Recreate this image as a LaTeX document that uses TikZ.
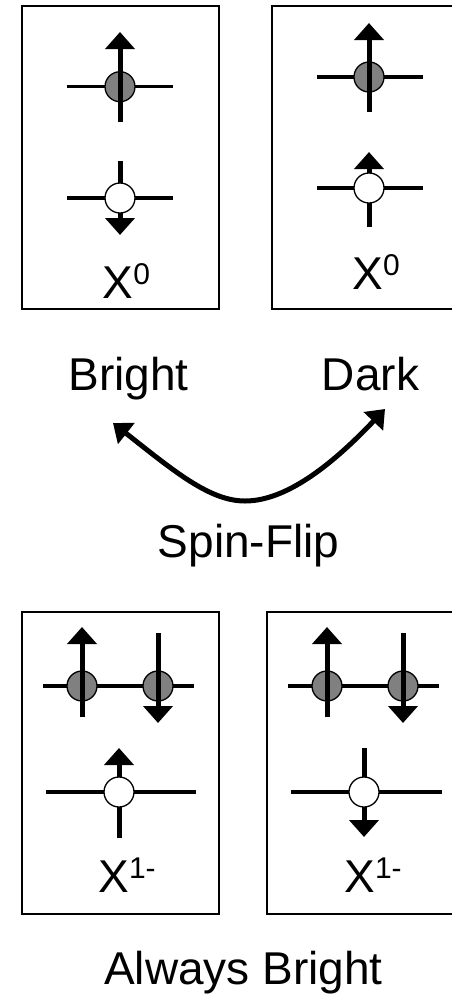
\documentclass[tikz,border=0pt]{standalone}
\usepackage{fontspec}
\setmainfont{Liberation Sans}
\usetikzlibrary{arrows.meta}
\newcommand{\bigtxt}{\fontsize{46}{50}\selectfont}
\newcommand{\suptxt}[1]{\raisebox{14pt}{\fontsize{30}{32}\selectfont #1}}
\tikzset{
  frame/.style={line width=1.6pt},
  level/.style={line width=3.3pt},
  spin/.style={line width=5pt,-{Triangle[width=29pt,length=17pt]}},
  elec/.style={circle,draw,line width=1.3pt,fill=black!50,minimum size=30pt,inner sep=0pt},
  hole/.style={circle,draw,line width=1.3pt,fill=white,minimum size=30pt,inner sep=0pt},
  lbl/.style={anchor=base,inner sep=0pt,font=\bigtxt},
  flip/.style={line width=5pt,{Triangle[width=26pt,length=17pt]}-{Triangle[width=26pt,length=17pt]}}
}
\begin{document}
\begin{tikzpicture}[x=1pt,y=-1pt]
\useasboundingbox (0,0) rectangle (452,994);
\fill[white] (0,0) rectangle (452,994);

% ---------- frames ----------
\draw[frame] (22,6) rectangle (219,309);
\draw[frame] (452,6) -- (272,6) -- (272,309) -- (452,309);
\draw[frame] (22,612) rectangle (219,914);
\draw[frame] (452,612) -- (267,612) -- (267,914) -- (452,914);

% ---------- top-left (X0 bright) ----------
\draw[level] (67,86.7) -- (173,86.7);
\node[elec] (tl1) at (120,86.7) {};
\draw[spin] (120,122) -- (120,32);
\draw[level] (67,198) -- (173,198);
\draw[spin] (120,161) -- (120,235);
\node[hole] (tl2) at (120,198) {};
\node[lbl] (tlx) at (126.5,298) {X\suptxt{0}};

% ---------- top-right (X0 dark) ----------
\draw[level] (317,77) -- (423,77);
\node[elec] (tr1) at (369,77) {};
\draw[spin] (369,112) -- (369,23);
\draw[level] (317,188) -- (423,188);
\draw[spin] (369,227) -- (369,152);
\node[hole] (tr2) at (369,188) {};
\node[lbl] (trx) at (376,289) {X\suptxt{0}};

% ---------- labels and spin flip ----------
\node[lbl] (bright) at (128.5,390) {Bright};
\node[lbl] (dark) at (370.5,390) {Dark};
\coordinate (fl) at (113,423);
\coordinate (fb) at (245,501);
\coordinate (fr) at (385,409);
\draw[flip] (fl) .. controls (175,472) and (210,501) .. (fb)
            .. controls (285,501) and (330,467) .. (fr);
\node[lbl] (spinflip) at (248.5,557) {Spin-Flip};

% ---------- bottom-left (X1-) ----------
\draw[level] (43,686) -- (194,686);
\node[elec] (bl1) at (82,686) {};
\node[elec] (bl2) at (158,686) {};
\draw[spin] (82,717) -- (82,627);
\draw[spin] (158,633) -- (158,723);
\draw[level] (46,792) -- (196,792);
\draw[spin] (119,838) -- (119,748);
\node[hole] (bl3) at (119,792) {};
\node[lbl] (blx) at (127,892) {X\suptxt{1-}};

% ---------- bottom-right (X1-) ----------
\draw[level] (288,686) -- (439,686);
\node[elec] (br1) at (327,686) {};
\node[elec] (br2) at (403,686) {};
\draw[spin] (327,717) -- (327,627);
\draw[spin] (403,633) -- (403,723);
\draw[level] (291,792) -- (442,792);
\draw[spin] (364,748) -- (364,837);
\node[hole] (br3) at (364,792) {};
\node[lbl] (brx) at (373,892) {X\suptxt{1-}};

\node[lbl] (always) at (243.5,984) {Always Bright};
\end{tikzpicture}
\end{document}
